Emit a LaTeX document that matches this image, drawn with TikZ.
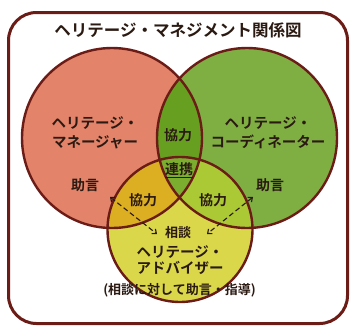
\documentclass[tikz,border=0pt]{standalone}
\usepackage{fontspec}
\newfontfamily\jpb{Noto Sans CJK JP Bold}
\usetikzlibrary{arrows.meta}
\definecolor{redc}{HTML}{E2836A}
\definecolor{greenc}{HTML}{7FAF43}
\definecolor{yellowc}{HTML}{DAD84A}
\definecolor{rgc}{HTML}{67A020}
\definecolor{ryc}{HTML}{DCAE22}
\definecolor{gyc}{HTML}{ABC835}
\definecolor{cenc}{HTML}{7BAE2E}
\definecolor{linec}{HTML}{6B1C17}
\definecolor{txtc}{HTML}{2B1A12}
\tikzset{
  lbl/.style={text=txtc, inner sep=0pt, align=center},
  outline/.style={draw=linec, line width=2.4pt},
  dasharrow/.style={draw=txtc, line width=1.1pt, dash pattern=on 5pt off 3pt,
    {Straight Barb[length=3.5pt,width=6pt]}-{Straight Barb[length=3.5pt,width=6pt]}},
}
\newcommand{\fsz}[1]{\fontsize{#1pt}{#1pt}\selectfont}
\begin{document}
\begin{tikzpicture}[x=1pt,y=-1pt]
\useasboundingbox (0,0) rectangle (354,327);
\fill[white] (0,0) rectangle (354,327);
\draw[draw=linec, line width=3pt, fill=white, rounded corners=28pt] (8.5,12.5) rectangle (347.5,323.5);
% circles
\def\rc{(112,138) circle[radius=90]}
\def\gc{(247,138) circle[radius=90]}
\def\yc{(180,229.5) circle[radius=72.5]}
\fill[redc] \rc;
\fill[greenc] \gc;
\fill[yellowc] \yc;
\begin{scope}\clip \rc; \fill[rgc] \gc; \end{scope}
\begin{scope}\clip \rc; \fill[ryc] \yc; \end{scope}
\begin{scope}\clip \gc; \fill[gyc] \yc; \end{scope}
\begin{scope}\clip \rc; \clip \gc; \fill[cenc] \yc; \end{scope}
\draw[outline] \rc;
\draw[outline] \gc;
\draw[outline] \yc;
% texts
\node[lbl, font=\jpb\fsz{16.5}] (title) at (178,30) {ヘリテージ・マネジメント関係図};
\node[lbl, font=\jpb\fontsize{14.5pt}{19pt}\selectfont] (mgr) at (95,132.5) {ヘリテージ・\\マネージャー};
\node[lbl, font=\jpb\fontsize{14.5pt}{19pt}\selectfont] (crd) at (268,132.5) {ヘリテージ・\\コーディネーター};
\node[lbl, font=\jpb\fsz{14}] (k1) at (178,135) {協力};
\node[lbl, font=\jpb\fsz{14}] (rk) at (179,170) {\underline{連携}};
\node[lbl, font=\jpb\fsz{14}] (j1) at (85,185) {助言};
\node[lbl, font=\jpb\fsz{14}] (j2) at (270,185) {助言};
\node[lbl, font=\jpb\fsz{14}] (k2) at (143,200) {協力};
\node[lbl, font=\jpb\fsz{14}] (k3) at (213,200) {協力};
\node[lbl, font=\jpb\fsz{13}] (sd) at (178,233) {相談};
\node[lbl, font=\jpb\fontsize{14.5pt}{16.5pt}\selectfont] (adv) at (180,260) {ヘリテージ・\\アドバイザー};
\node[lbl, font=\jpb\fsz{13}] (note) at (179.5,290) {(相談に対して助言・指導)};
% arrows
\coordinate (la1) at (110,197);
\coordinate (la2) at (157,234);
\coordinate (ra1) at (253,197);
\coordinate (ra2) at (207,234);
\draw[dasharrow] (la1) -- (la2);
\draw[dasharrow] (ra1) -- (ra2);
\end{tikzpicture}
\end{document}
